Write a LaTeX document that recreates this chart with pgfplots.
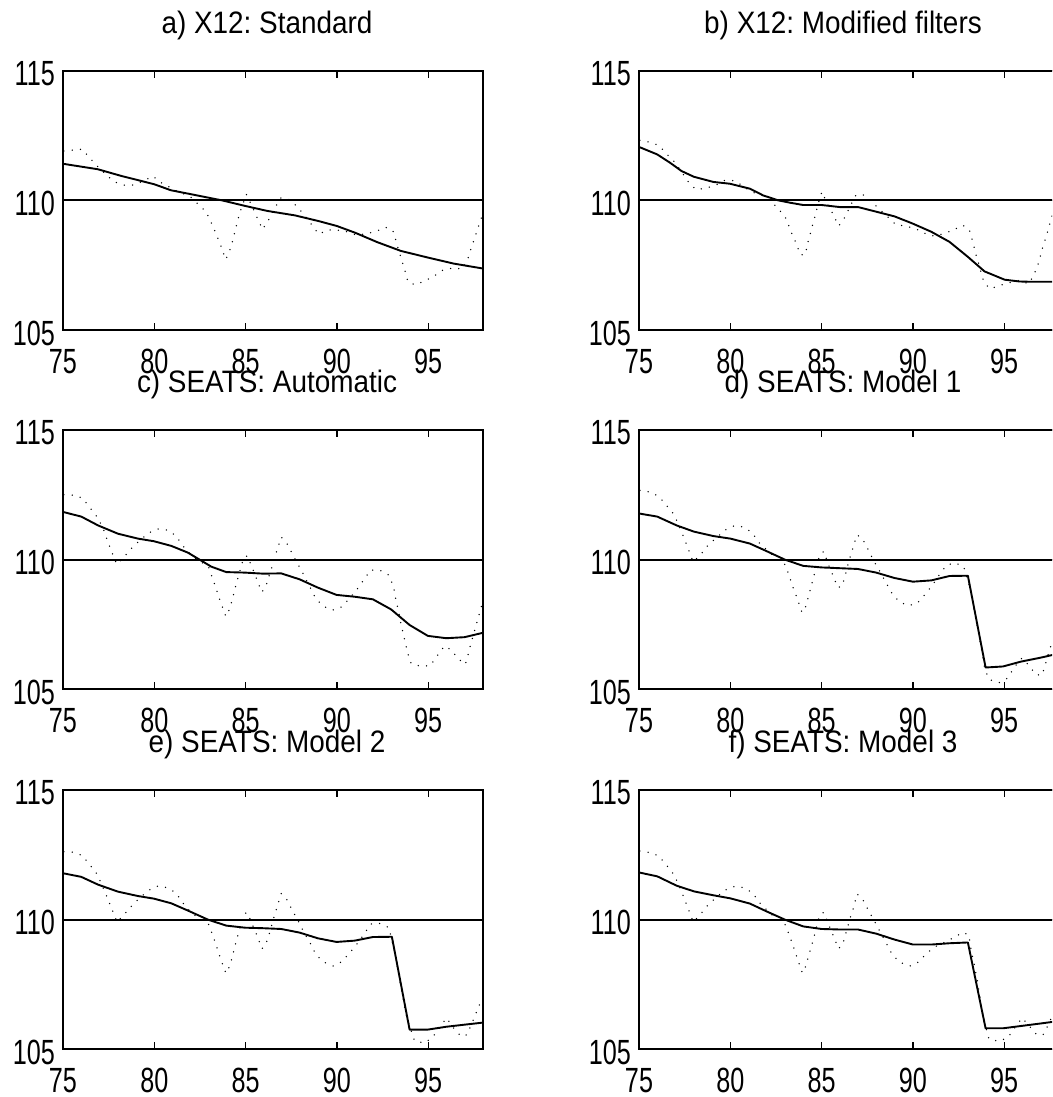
\documentclass[border=0pt]{standalone}
\usepackage{pgfplots}
\pgfplotsset{compat=1.18}
\usepackage{fontspec}
\setmainfont{Liberation Sans}
\newfontfamily\tickfont{Liberation Sans}[FakeStretch=0.72]
\newfontfamily\titlefont{Liberation Sans}[FakeStretch=0.9]
\frenchspacing
\pgfplotsset{
  panel/.style={
    scale only axis, width=420pt, height=259.3pt,
    xmin=75, xmax=98, ymin=105, ymax=115,
    xtick={75,80,85,90,95}, xticklabels={75,80,85,90,95},
    ytick={105,110,115}, yticklabels={105,110,115},
    tick align=inside, xtick pos=both, ytick pos=both,
    major tick length=7pt,
    axis line style={line width=1.9pt},
    every tick/.style={black, line width=1.3pt},
    ticklabel style={font=\tickfont\fontsize{35pt}{35pt}\selectfont, inner sep=0pt},
    yticklabel style={anchor=east, xshift=-8pt, yshift=-3pt},
    xticklabel style={anchor=north, yshift=-19pt},
    title style={font=\titlefont\frenchspacing\fontsize{31pt}{31pt}\selectfont, at={(0.5,1)}, anchor=base, yshift=31pt, xshift=-6pt, inner sep=0pt},
  },
  trend/.style={black, line width=1.9pt, line join=round},
  ref/.style={black, line width=1.9pt},
  sa/.style={black, line width=1.5pt, line cap=round, dash pattern=on 0pt off 8.3pt},
}
\begin{document}
\begin{tikzpicture}
\clip (0pt,0pt) rectangle (1052pt,1097pt);
% ---------------- a
\begin{axis}[panel, at={(63pt,767pt)}, anchor=south west, title={a) X12: Standard}]
\addplot[ref] coordinates {(75,110) (98,110)};
\addplot[sa] coordinates {(75.05,111.9)(75.55,111.94)(76.06,111.97)(76.48,111.62)(76.92,111.29)(77.37,110.98)(77.83,110.71)(78.34,110.59)(78.89,110.59)(79.4,110.75)(79.93,110.93)(80.40,110.67)(81.39,110.30)(81.93,110.17)(82.39,109.86)(82.85,109.55)(83.12,109.14)(83.41,108.66)(83.67,108.20)(83.91,107.72)(84.11,108.01)(84.31,108.50)(84.49,109.01)(84.67,109.50)(85.04,110.23)(85.35,109.78)(85.64,109.32)(85.93,108.88)(86.24,109.22)(86.55,109.64)(86.92,110.09)(87.32,110.06)(87.79,109.78)(88.19,109.45)(88.59,109.09)(89.00,108.70)(89.51,108.86)(90.05,108.85)(90.55,108.79)(91.08,108.66)(91.61,108.71)(92.15,108.80)(92.66,108.96)(93.07,108.83)(93.27,108.34)(93.49,107.84)(93.70,107.35)(93.89,106.86)(94.29,106.74)(94.80,106.89)(95.31,107.07)(95.80,107.31)(96.35,107.39)(96.88,107.35)(97.17,107.75)(97.39,108.24)(97.63,108.73)(97.85,109.20)(98,109.5)};
\addplot[trend] coordinates {(75,111.41)(76.9,111.2)(78.2,110.94)(80,110.62)(80.9,110.39)(82.2,110.21)(83.7,110.0)(85,109.78)(86.2,109.59)(87.7,109.42)(89,109.2)(90,109.01)(91,108.75)(92.2,108.39)(93.5,108.05)(95,107.79)(96.4,107.56)(98,107.37)};
\end{axis}
% ---------------- b
\begin{axis}[panel, at={(639pt,767pt)}, anchor=south west, title={b) X12: Modified filters}]
\addplot[ref] coordinates {(75,110) (98,110)};
\addplot[sa] coordinates {(75.05,112.32)(75.57,112.24)(76.09,112.12)(76.51,111.79)(76.97,111.47)(77.33,111.10)(77.72,110.69)(78.12,110.41)(78.66,110.47)(79.19,110.58)(79.69,110.77)(80.20,110.76)(80.7,110.55)(81.16,110.32)(81.80,110.19)(82.24,109.96)(82.66,109.65)(83.06,109.29)(83.31,108.82)(83.59,108.37)(83.84,107.90)(84.10,107.90)(84.26,108.40)(84.44,108.88)(84.64,109.38)(84.81,109.86)(85.01,110.33)(85.30,109.88)(85.63,109.46)(85.94,109.01)(86.25,109.32)(86.54,109.74)(86.87,110.18)(87.23,110.24)(87.73,109.95)(88.18,109.65)(88.64,109.35)(89.06,109.06)(89.60,109.01)(90.13,108.91)(90.64,108.73)(91.15,108.62)(91.70,108.72)(92.23,108.86)(92.74,109.04)(93.10,108.86)(93.29,108.37)(93.47,107.86)(93.69,107.35)(93.87,106.88)(94.20,106.59)(94.74,106.71)(95.26,106.82)(95.80,106.91)(96.35,106.78)(96.64,107.14)(96.90,107.64)(97.08,108.13)(97.3,108.6)(97.5,109.1)(97.7,109.6)};
\addplot[trend] coordinates {(75,112.06)(76.0,111.77)(76.7,111.45)(77.33,111.13)(78.0,110.91)(79.07,110.71)(79.98,110.64)(81.07,110.45)(81.8,110.19)(82.62,110.0)(83.26,109.91)(83.99,109.82)(85.0,109.82)(86.0,109.74)(87.0,109.74)(88.0,109.56)(89.0,109.38)(90.0,109.1)(91.0,108.79)(92.0,108.40)(93.01,107.82)(93.92,107.26)(95.02,106.94)(95.84,106.87)(96.39,106.86)(98,106.86)};
\end{axis}
% ---------------- c
\begin{axis}[panel, at={(63pt,407.7pt)}, anchor=south west, title={c) SEATS: Automatic}]
\addplot[ref] coordinates {(75,110) (98,110)};
\addplot[sa] coordinates {(75.05,112.5)(75.55,112.49)(76.06,112.38)(76.46,112.02)(76.86,111.65)(77.19,111.22)(77.43,110.75)(77.68,110.28)(77.94,109.82)(78.34,110.10)(78.78,110.46)(79.23,110.76)(79.69,111.03)(80.20,111.18)(80.75,111.14)(81.20,110.91)(81.57,110.53)(82.06,110.14)(82.48,109.95)(82.97,109.72)(83.21,109.24)(83.45,108.75)(83.67,108.29)(83.91,107.81)(84.12,108.08)(84.31,108.57)(84.49,109.07)(84.69,109.56)(84.89,110.06)(85.09,110.15)(85.36,109.70)(85.62,109.23)(85.88,108.75)(86.09,108.92)(86.31,109.42)(86.53,109.91)(86.73,110.39)(86.95,110.87)(87.23,110.66)(87.55,110.23)(87.88,109.81)(88.19,109.40)(88.52,108.95)(88.83,108.51)(89.25,108.21)(89.76,108.05)(90.24,108.17)(90.69,108.50)(91.09,108.84)(91.48,109.23)(91.84,109.60)(92.32,109.60)(92.83,109.41)(93.08,109.00)(93.23,108.47)(93.38,107.98)(93.52,107.47)(93.70,106.95)(93.85,106.44)(94.07,105.99)(94.58,105.89)(95.11,105.91)(95.49,106.29)(95.89,106.67)(96.26,106.52)(96.66,106.17)(97.03,105.96)(97.23,106.47)(97.41,106.95)(97.61,107.45)(97.81,107.94)(98,108.4)};
\addplot[trend] coordinates {(75,111.84)(76.0,111.66)(76.92,111.32)(78.01,111.0)(79.11,110.81)(79.98,110.71)(80.93,110.53)(81.84,110.27)(82.48,110.0)(83.12,109.73)(83.94,109.52)(84.96,109.50)(85.95,109.46)(86.95,109.47)(87.96,109.24)(88.96,108.92)(89.98,108.64)(90.97,108.57)(91.97,108.47)(92.97,108.08)(93.98,107.48)(94.98,107.06)(95.99,106.97)(96.99,107.01)(98,107.18)};
\end{axis}
% ---------------- d
\begin{axis}[panel, at={(639pt,407.7pt)}, anchor=south west, title={d) SEATS: Model 1}]
\addplot[ref] coordinates {(75,110) (98,110)};
\addplot[sa] coordinates {(75.05,112.67)(75.57,112.61)(76.08,112.45)(76.51,112.09)(76.91,111.75)(77.2,111.3)(77.46,110.85)(77.72,110.37)(77.97,109.91)(78.37,110.19)(78.77,110.55)(79.25,110.85)(79.69,111.13)(80.20,111.30)(80.74,111.26)(81.20,111.04)(81.58,110.65)(82.16,110.27)(82.53,110.04)(82.97,109.83)(83.22,109.40)(83.44,108.91)(83.70,108.43)(83.93,107.96)(84.12,108.18)(84.32,108.68)(84.50,109.17)(84.68,109.67)(84.90,110.17)(85.12,110.32)(85.34,109.86)(85.61,109.41)(85.88,108.92)(86.14,108.99)(86.32,109.47)(86.50,109.95)(86.72,110.46)(86.92,110.95)(87.20,110.85)(87.53,110.42)(87.85,109.96)(88.18,109.56)(88.51,109.13)(88.84,108.72)(89.24,108.38)(89.75,108.22)(90.26,108.33)(90.66,108.66)(91.06,109.01)(91.43,109.40)(91.83,109.78)(92.30,109.88)(92.78,109.73)(93.14,108.86)(93.43,107.83)(93.69,106.78)(93.83,106.24)(93.94,105.75)(94.20,105.37)(94.74,105.26)(95.18,105.43)(95.58,105.88)(95.97,106.20)(96.35,105.92)(96.75,105.56)(97.08,105.55)(97.48,106.51)(97.7,107.0)(97.9,107.5)};
\addplot[trend] coordinates {(75,111.78)(76.0,111.66)(77.06,111.32)(78.01,111.08)(79.07,110.91)(80.01,110.81)(81.07,110.62)(81.98,110.33)(82.99,110.0)(83.99,109.76)(84.99,109.70)(85.99,109.67)(86.99,109.64)(87.99,109.50)(89.0,109.29)(90.0,109.15)(91.01,109.20)(92.01,109.37)(93.01,109.38)(93.98,105.84)(94.93,105.88)(95.93,106.07)(96.93,106.21)(98,106.38)};
\end{axis}
% ---------------- e
\begin{axis}[panel, at={(63pt,47.7pt)}, anchor=south west, title={e) SEATS: Model 2}]
\addplot[ref] coordinates {(75,110) (98,110)};
\addplot[sa] coordinates {(75.05,112.62)(75.55,112.60)(76.06,112.47)(76.48,112.10)(76.88,111.74)(77.15,111.3)(77.43,110.84)(77.70,110.37)(77.96,109.90)(78.36,110.21)(78.78,110.55)(79.25,110.87)(79.71,111.14)(80.18,111.29)(80.75,111.23)(81.19,111.02)(81.57,110.64)(82.03,110.26)(82.48,110.05)(82.97,109.83)(83.21,109.37)(83.45,108.88)(83.67,108.41)(83.92,107.93)(84.14,108.21)(84.32,108.71)(84.51,109.22)(84.7,109.7)(84.89,110.21)(85.09,110.28)(85.38,109.79)(85.64,109.36)(85.89,108.88)(86.11,109.05)(86.33,109.52)(86.51,110.00)(86.73,110.51)(86.95,111.00)(87.23,110.81)(87.55,110.37)(87.88,109.95)(88.21,109.49)(88.54,109.09)(88.85,108.66)(89.25,108.37)(89.80,108.21)(90.24,108.37)(90.69,108.71)(91.11,109.07)(91.48,109.43)(91.84,109.83)(92.32,109.86)(92.83,109.70)(93.16,108.78)(93.43,107.69)(93.70,106.66)(93.85,106.18)(94.25,105.33)(94.80,105.24)(95.22,105.46)(95.62,105.82)(96.00,106.21)(96.39,105.82)(96.81,105.49)(97.14,105.57)(97.41,106.04)(97.68,106.50)(97.96,106.98)};
\addplot[trend] coordinates {(75,111.79)(76.0,111.65)(76.92,111.35)(78.01,111.08)(79.11,110.91)(79.98,110.81)(80.93,110.63)(81.84,110.35)(82.94,110.0)(83.94,109.77)(84.96,109.69)(85.95,109.67)(86.95,109.64)(87.96,109.50)(88.96,109.28)(89.98,109.14)(90.97,109.19)(91.97,109.33)(93.01,109.34)(93.98,105.76)(94.98,105.76)(95.99,105.87)(96.99,105.95)(98,106.03)};
\end{axis}
% ---------------- f
\begin{axis}[panel, at={(639pt,47.7pt)}, anchor=south west, title={f) SEATS: Model 3}]
\addplot[ref] coordinates {(75,110) (98,110)};
\addplot[sa] coordinates {(75.05,112.65)(75.57,112.59)(76.08,112.46)(76.51,112.10)(76.91,111.74)(77.2,111.3)(77.46,110.85)(77.72,110.38)(77.97,109.91)(78.37,110.21)(78.77,110.56)(79.25,110.87)(79.72,111.14)(80.23,111.28)(80.74,111.24)(81.22,111.03)(81.62,110.64)(82.16,110.26)(82.53,110.03)(82.99,109.83)(83.24,109.38)(83.48,108.90)(83.71,108.41)(83.95,107.94)(84.13,108.21)(84.33,108.71)(84.54,109.21)(84.72,109.72)(84.90,110.19)(85.12,110.28)(85.39,109.81)(85.65,109.36)(85.92,108.88)(86.16,109.04)(86.34,109.51)(86.54,110.00)(86.76,110.50)(86.94,110.99)(87.23,110.81)(87.56,110.36)(87.89,109.94)(88.22,109.51)(88.55,109.08)(88.87,108.65)(89.28,108.36)(89.82,108.21)(90.30,108.36)(90.73,108.69)(91.19,108.95)(91.72,109.12)(92.23,109.31)(92.74,109.51)(93.07,109.40)(93.18,108.85)(93.34,108.33)(93.50,107.76)(93.69,106.92)(93.83,106.28)(94.16,105.40)(94.71,105.31)(95.20,105.45)(95.58,105.83)(95.97,106.21)(96.35,105.92)(96.75,105.59)(97.11,105.54)(97.48,106.03)(97.7,106.5)(97.9,107.0)};
\addplot[trend] coordinates {(75,111.82)(76.0,111.67)(77.06,111.31)(78.01,111.09)(79.07,110.94)(80.01,110.82)(81.07,110.62)(81.98,110.32)(82.99,110.0)(83.99,109.74)(84.99,109.64)(85.99,109.62)(86.99,109.62)(87.99,109.46)(89.0,109.23)(90.0,109.04)(91.01,109.04)(92.01,109.09)(93.01,109.12)(93.98,105.81)(94.93,105.81)(95.93,105.90)(96.93,105.99)(98,106.09)};
\end{axis}
\end{tikzpicture}
\end{document}
